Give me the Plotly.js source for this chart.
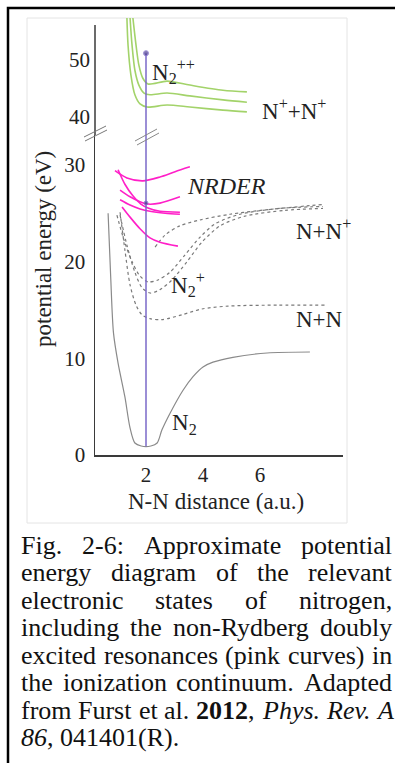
<!DOCTYPE html>
<html>
<head>
<meta charset="utf-8">
<script src="https://cdn.plot.ly/plotly-3.0.1.min.js"></script>
<style>
  html, body { margin: 0; padding: 0; background: #ffffff; }
  #chart { width: 395px; height: 763px; }
</style>
</head>
<body>
<div id="chart"></div>
<script>
// ---------------- DATA ----------------
// x: N-N distance (a.u.), y: potential energy (eV)

// Neutral ground state N2 (solid grey)
const rN2 = [0.67, 0.76, 0.86, 1.02, 1.26, 1.44, 1.61, 1.83, 2.17, 2.39, 2.56, 2.84, 3.30, 3.65, 4.00, 4.35, 5.05, 6.25, 7.75];
const eN2 = [25.0, 18.5, 12.6, 9.5, 6.0, 2.8, 1.24, 0.93, 0.93, 1.24, 2.6, 4.3, 6.7, 8.1, 9.1, 9.6, 10.1, 10.55, 10.65];

// N2+ states (dotted grey)
const rIonX = [1.09, 1.26, 1.44, 1.65, 1.86, 2.14, 2.56, 3.26, 3.96, 4.88, 6.63, 8.28];      // -> N + N
const eIonX = [25.1, 21.2, 17.6, 15.5, 14.5, 14.1, 14.0, 14.5, 15.1, 15.4, 15.5, 15.5];
const rIonB1 = [0.98, 1.23, 1.51, 1.79, 2.07, 2.42, 2.84, 3.37, 3.89, 4.42, 5.30, 6.70, 8.21]; // -> N + N+
const eIonB1 = [24.8, 22.2, 20.0, 18.5, 17.9, 18.1, 18.9, 20.7, 22.5, 23.9, 24.9, 25.5, 25.7];
const rIonB2 = [1.09, 1.33, 1.61, 1.86, 2.14, 2.49, 2.91, 3.44, 3.96, 4.60, 5.47, 6.88, 8.21];
const eIonB2 = [24.8, 21.7, 18.9, 17.3, 16.75, 17.1, 18.1, 20.0, 22.0, 23.7, 24.7, 25.3, 25.5];
const rIonC = [2.32, 2.67, 3.19, 3.89, 4.95, 6.35, 8.21];
const eIonC = [21.5, 22.75, 23.7, 24.3, 24.9, 25.4, 25.9];

// Non-Rydberg doubly excited resonances, NRDER (pink)
const rP1 = [0.91, 1.33, 1.89, 2.49, 3.02, 3.54];
const eP1 = [29.4, 28.65, 28.35, 28.75, 29.3, 29.8];
const rP2 = [1.02, 1.26, 1.54, 1.82, 2.07, 2.49, 3.19];
const eP2 = [29.5, 28.0, 26.8, 25.95, 25.55, 25.2, 25.1];
const rP3 = [1.09, 1.44, 1.79, 2.07, 2.49, 3.19];
const eP3 = [27.4, 26.7, 26.2, 25.95, 26.05, 26.7];
const rP4 = [1.09, 1.44, 1.79, 2.14, 2.67, 3.19];
const eP4 = [26.4, 25.85, 25.45, 25.2, 25.0, 24.9];
const rP5 = [1.16, 1.44, 1.79, 2.14, 2.49, 3.12];
const eP5 = [25.65, 24.6, 23.4, 22.45, 22.0, 21.6];

// N2++ states (green), upper part of the broken energy axis
const rG1 = [1.54, 1.65, 1.75, 1.89, 2.07, 2.74, 3.54, 4.70, 5.54];
const eG1 = [57.4, 52.6, 49.1, 46.8, 45.8, 46.3, 45.6, 44.7, 44.4];
const rG2 = [1.44, 1.51, 1.61, 1.75, 1.93, 2.14, 2.74, 3.54, 4.70, 5.54];
const eG2 = [57.4, 52.6, 48.2, 45.6, 44.2, 43.9, 44.2, 43.7, 43.0, 42.6];
const rG3 = [1.33, 1.37, 1.47, 1.61, 1.79, 2.04, 2.74, 3.54, 4.70, 5.54];
const eG3 = [57.4, 52.6, 47.4, 43.9, 42.3, 41.75, 42.1, 41.75, 41.2, 40.9];

// Vertical transition at R = 2 a.u. (purple)
const rVert = [2, 2, 2];
const eVertLow = [0.9, 26.06, 40];
const eVertHigh = [30, 51.2];

// Axis ticks
const xTicks = [2, 4, 6];
const yTicksLow = [0, 10, 20, 30];
const yTicksHigh = [40, 50];

// State labels
const lblN2pp = 'N<sub>2</sub><sup>++</sup>';
const lblNpNp = 'N<sup>+</sup>+N<sup>+</sup>';
const lblNRDER = '<i>NRDER</i>';
const lblNNp = 'N+N<sup>+</sup>';
const lblN2p = 'N<sub>2</sub><sup>+</sup>';
const lblNN = 'N+N';
const lblN2 = 'N<sub>2</sub>';
const xTitle = 'N-N distance (a.u.)';
const yTitle = 'potential energy (eV)';

const captionLines = [
  'Fig. 2-6: Approximate potential',
  'energy diagram of the relevant',
  'electronic states of nitrogen,',
  'including the non-Rydberg doubly',
  'excited resonances (pink curves) in',
  'the ionization continuum. Adapted',
  'from Furst et al. <b>2012</b>, <i>Phys.</i> <i>Rev.</i> <i>A</i>',
  '<i>86</i>, 041401(R).'
];

// ---------------- LAYOUT HELPERS ----------------
const W = 395, H = 763;
const PX = v => v / W;           // pixel x -> paper
const PY = v => 1 - v / H;       // pixel y -> paper
const FONT = 'Liberation Serif';
const AX = '#3a3a3a';

const grey = '#8a8a8a', dotGrey = '#7a7a7a', pink = '#ff1fc8', green = '#a3d36a', purple = '#7a68c8';

function line(x, y, color, width, dash, yaxis) {
  return { x: x, y: y, mode: 'lines', type: 'scatter', hoverinfo: 'skip', showlegend: false,
           xaxis: 'x', yaxis: yaxis || 'y',
           line: { color: color, width: width, dash: dash || 'solid', shape: 'spline', smoothing: 0.8 } };
}

const traces = [
  line(rN2, eN2, grey, 1.2),
  line(rIonX, eIonX, dotGrey, 1.2, 'dot'),
  line(rIonB1, eIonB1, dotGrey, 1.2, 'dot'),
  line(rIonB2, eIonB2, dotGrey, 1.2, 'dot'),
  line(rIonC, eIonC, dotGrey, 1.2, 'dot'),
  line(rP1, eP1, pink, 1.6),
  line(rP2, eP2, pink, 1.6),
  line(rP3, eP3, pink, 1.6),
  line(rP4, eP4, pink, 1.6),
  line(rP5, eP5, pink, 1.6),
  line(rG1, eG1, green, 1.6, 'solid', 'y2'),
  line(rG2, eG2, green, 1.6, 'solid', 'y2'),
  line(rG3, eG3, green, 1.6, 'solid', 'y2'),
  { x: rVert, y: eVertLow, type: 'scatter', mode: 'lines+markers', xaxis: 'x', yaxis: 'y',
    hoverinfo: 'skip', showlegend: false,
    line: { color: purple, width: 1.5 }, marker: { color: '#4a3a90', size: [0, 4, 0] } },
  { x: rVert.slice(0, 2), y: eVertHigh, type: 'scatter', mode: 'lines+markers', xaxis: 'x', yaxis: 'y2',
    hoverinfo: 'skip', showlegend: false,
    line: { color: purple, width: 1.5 }, marker: { color: '#4a3a90', size: [0, 5] } }
];

const tickFont = { family: FONT, size: 21, color: '#222' };
const lblFont = { family: FONT, size: 23, color: '#222' };

// ranges from the picture's pixel geometry
const xPx0 = 95, xPx1 = 343, yZeroPx = 455, yBreakPx = 135, yTopPx = 18;
const xPerUnit = 28.5, lowPerEV = 9.67, highPerEV = 5.7;
const xRange = [2 + (xPx0 - 146) / xPerUnit, 2 + (xPx1 - 146) / xPerUnit];
const yLowRange = [0, (yZeroPx - yBreakPx) / lowPerEV];
const yHighRange = [40 + (117 - yBreakPx) / highPerEV, 40 + (117 - yTopPx) / highPerEV];

const annotations = [];
function label(text, x, y, opts) {
  annotations.push(Object.assign({ text: text, x: PX(x), y: PY(y), xref: 'paper', yref: 'paper',
    xanchor: 'left', yanchor: 'middle', showarrow: false, font: lblFont, borderpad: 0, borderwidth: 0 }, opts || {}));
}
label(lblN2pp, 152, 72);
label(lblNpNp, 262, 110);
label(lblNRDER, 187, 186, { font: { family: FONT, size: 24, color: '#222' } });
label(lblNNp, 296, 229);
label(lblN2p, 171, 285);
label(lblNN, 296, 319);
label(lblN2, 172, 424);
label(yTitle, 44, 249, { xanchor: 'center', textangle: -90, font: { family: FONT, size: 23, color: '#222' } });
label(xTitle, 216, 501, { xanchor: 'center', font: { family: FONT, size: 23, color: '#222' } });

// caption: justified lines, built word by word
const CAP = 26, capL = 21, capR = 392, capTop = 545, capStep = 27.5;
const ctx = document.createElement('canvas').getContext('2d');
function wordWidth(html) {
  let b = false, it = false, wsum = 0;
  html.split(/(<\/?[bi]>)/).forEach(p => {
    if (p === '<b>') b = true; else if (p === '</b>') b = false;
    else if (p === '<i>') it = true; else if (p === '</i>') it = false;
    else if (p) {
      ctx.font = (it ? 'italic ' : '') + (b ? 'bold ' : '') + CAP + 'px "Liberation Serif"';
      wsum += ctx.measureText(p).width;
    }
  });
  return wsum;
}
const capFont = { family: FONT, size: CAP, color: '#111' };
captionLines.forEach((ln, i) => {
  const yc = capTop + i * capStep;
  if (i === captionLines.length - 1) {
    label(ln, capL, yc, { font: capFont });
    return;
  }
  const words = ln.split(' ');
  const widths = words.map(wordWidth);
  const total = widths.reduce((a, b) => a + b, 0);
  const gap = (capR - capL - total) / (words.length - 1);
  let x = capL;
  words.forEach((wd, k) => {
    label(wd, x, yc, { font: capFont });
    x += widths[k] + gap;
  });
});

const shapes = [
  // outer page frame
  { type: 'rect', xref: 'paper', yref: 'paper', x0: PX(8), x1: 1.05, y0: -0.05, y1: PY(8),
    line: { color: '#000', width: 2.5 }, layer: 'above' },
  // faint edge of the embedded figure
  { type: 'rect', xref: 'paper', yref: 'paper', x0: PX(27), x1: PX(347), y0: PY(523), y1: PY(18),
    line: { color: '#e4e4e4', width: 1 }, layer: 'below' },
  // upper part of the energy axis line
  { type: 'line', xref: 'paper', yref: 'paper', x0: PX(xPx0), x1: PX(xPx0), y0: PY(yBreakPx), y1: PY(25),
    line: { color: AX, width: 1.5 } },
  // axis break marks
  { type: 'line', xref: 'paper', yref: 'paper', x0: PX(84), x1: PX(106), y0: PY(137), y1: PY(126),
    line: { color: '#777', width: 1 } },
  { type: 'line', xref: 'paper', yref: 'paper', x0: PX(85), x1: PX(107), y0: PY(141), y1: PY(130),
    line: { color: '#777', width: 1 } },
  { type: 'line', xref: 'paper', yref: 'paper', x0: PX(135), x1: PX(157), y0: PY(141), y1: PY(129),
    line: { color: '#888', width: 1 } },
  { type: 'line', xref: 'paper', yref: 'paper', x0: PX(137), x1: PX(159), y0: PY(145), y1: PY(133),
    line: { color: '#888', width: 1 } }
];

const layout = {
  width: W, height: H,
  margin: { l: 0, r: 0, t: 0, b: 0, pad: 0 },
  paper_bgcolor: '#ffffff', plot_bgcolor: 'rgba(0,0,0,0)',
  showlegend: false,
  font: { family: FONT },
  xaxis: { domain: [PX(xPx0), PX(xPx1)], range: xRange, anchor: 'y',
           tickvals: xTicks, ticks: '', showgrid: false, zeroline: false,
           showline: true, linecolor: AX, linewidth: 1.5, tickfont: tickFont, ticklabelstandoff: 0 },
  yaxis: { domain: [PY(yZeroPx), PY(yBreakPx)], range: yLowRange, anchor: 'x',
           tickvals: yTicksLow, ticks: '', showgrid: false, zeroline: false,
           showline: true, linecolor: AX, linewidth: 1.5, tickfont: tickFont, ticklabelstandoff: 4 },
  yaxis2: { domain: [PY(yBreakPx), PY(yTopPx)], range: yHighRange, anchor: 'x',
            tickvals: yTicksHigh, ticks: '', showgrid: false, zeroline: false,
            showline: false, tickfont: tickFont, ticklabelstandoff: 4 },
  annotations: annotations,
  shapes: shapes
};

Plotly.newPlot('chart', traces, layout, { staticPlot: true, displayModeBar: false });
</script>
</body>
</html>
